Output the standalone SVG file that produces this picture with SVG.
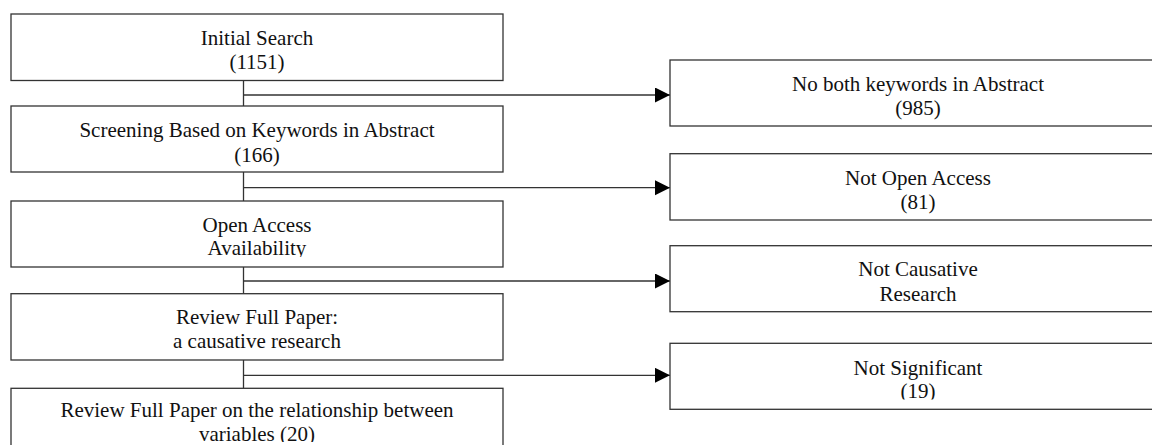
<svg xmlns="http://www.w3.org/2000/svg" width="1152" height="445" viewBox="0 0 1152 445">
  <defs>
    <style>
      .box { fill: #ffffff; stroke: #333333; stroke-width: 1.3; }
      .t { font-family: "Liberation Serif", "Times New Roman", serif; font-size: 21px; fill: #111111; text-anchor: middle; }
      .c { fill: none; stroke: #333333; stroke-width: 1.3; }
    </style>
    <marker id="arr" markerWidth="16" markerHeight="16" refX="15" refY="7.5" orient="auto" markerUnits="userSpaceOnUse">
      <path d="M0,0 L15,7.5 L0,15 Z" fill="#000000"/>
    </marker>
    <clipPath id="clipA"><rect x="0" y="0" width="600" height="257"/></clipPath>
    <clipPath id="clipB"><rect x="600" y="0" width="600" height="399.5"/></clipPath>
    <clipPath id="clipC"><rect x="0" y="0" width="600" height="442"/></clipPath>
  </defs>
  <rect width="1152" height="445" fill="#ffffff"/>

  <g id="connectors">
    <line class="c" x1="243.5" y1="80.5" x2="243.5" y2="106"/>
    <line class="c" x1="243.5" y1="95" x2="670" y2="95" marker-end="url(#arr)"/>
    <line class="c" x1="243.5" y1="172" x2="243.5" y2="201"/>
    <line class="c" x1="243.5" y1="187.7" x2="670" y2="187.7" marker-end="url(#arr)"/>
    <line class="c" x1="243.5" y1="267" x2="243.5" y2="293.7"/>
    <line class="c" x1="243.5" y1="281" x2="670" y2="281" marker-end="url(#arr)"/>
    <line class="c" x1="243.5" y1="360" x2="243.5" y2="388.3"/>
    <line class="c" x1="243.5" y1="375.3" x2="670" y2="375.3" marker-end="url(#arr)"/>
  </g>

  <g id="n-initial">
    <rect class="box" x="11" y="14" width="492" height="66.5"/>
    <text class="t" x="257" y="45">Initial Search</text>
    <text class="t" x="257" y="69">(1151)</text>
  </g>
  <g id="n-screening">
    <rect class="box" x="11" y="106" width="492" height="66"/>
    <text class="t" x="257" y="137">Screening Based on Keywords in Abstract</text>
    <text class="t" x="257" y="162">(166)</text>
  </g>
  <g id="n-open">
    <rect class="box" x="11" y="201" width="492" height="66"/>
    <g clip-path="url(#clipA)">
      <text class="t" x="257" y="231.7">Open Access</text>
      <text class="t" x="257" y="254.5">Availability</text>
    </g>
  </g>
  <g id="n-review">
    <rect class="box" x="11" y="293.7" width="492" height="66.3"/>
    <text class="t" x="257" y="324">Review Full Paper:</text>
    <text class="t" x="257" y="348">a causative research</text>
  </g>
  <g id="n-final">
    <rect class="box" x="11" y="388.3" width="492" height="66"/>
    <g clip-path="url(#clipC)">
      <text class="t" x="257" y="417.3">Review Full Paper on the relationship between</text>
      <text class="t" x="257" y="441.3">variables (20)</text>
    </g>
  </g>

  <g id="x-nokeywords">
    <rect class="box" x="670" y="60" width="496" height="66"/>
    <text class="t" x="918" y="91">No both keywords in Abstract</text>
    <text class="t" x="918" y="115">(985)</text>
  </g>
  <g id="x-notopen">
    <rect class="box" x="670" y="153.7" width="496" height="66.3"/>
    <text class="t" x="918" y="185">Not Open Access</text>
    <text class="t" x="918" y="209">(81)</text>
  </g>
  <g id="x-notcausative">
    <rect class="box" x="670" y="245.7" width="496" height="66"/>
    <text class="t" x="918" y="276">Not Causative</text>
    <text class="t" x="918" y="300.5">Research</text>
  </g>
  <g id="x-notsignificant">
    <rect class="box" x="670" y="343.3" width="496" height="66"/>
    <g clip-path="url(#clipB)">
      <text class="t" x="918" y="375">Not Significant</text>
      <text class="t" x="918" y="398.3">(19)</text>
    </g>
  </g>
</svg>
